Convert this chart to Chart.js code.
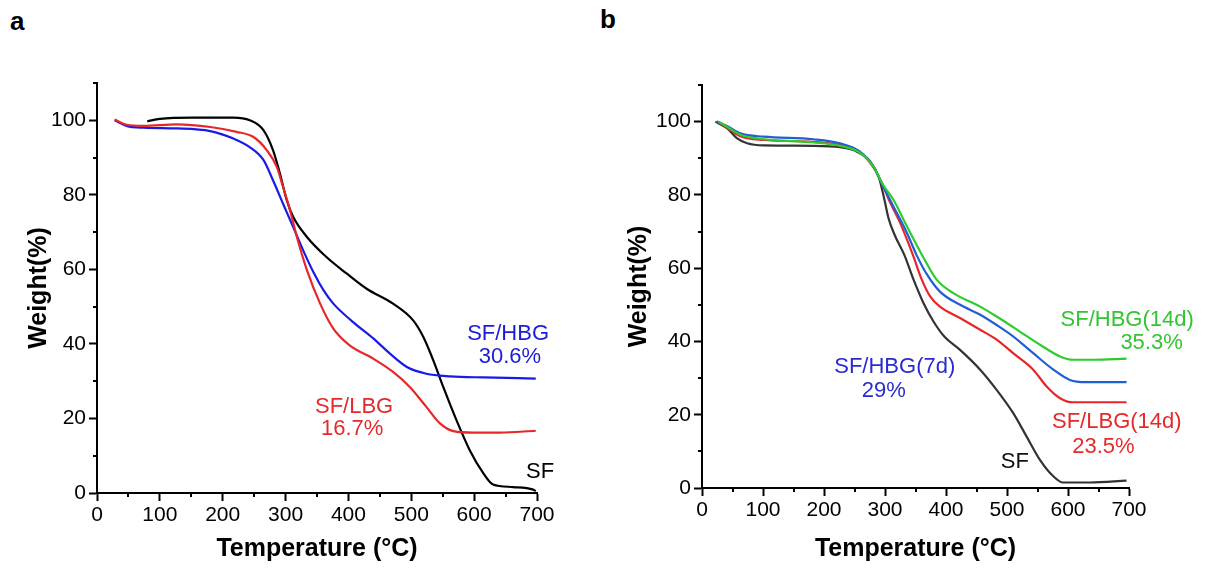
<!DOCTYPE html>
<html>
<head>
<meta charset="utf-8">
<script src="https://cdn.jsdelivr.net/npm/chart.js@4.4.1/dist/chart.umd.min.js"></script>
<style>
  html, body { margin: 0; padding: 0; background: #fff; }
  body { width: 1208px; height: 569px; position: relative; overflow: hidden; font-family: "Liberation Sans", Arial, sans-serif; }
  .panel { position: absolute; top: 0; height: 569px; }
  .letter { position: absolute; font: bold 26px "Liberation Sans", Arial, sans-serif; color: #000; }
</style>
</head>
<body>
<div class="letter" style="left:10px; top:6px;">a</div>
<div class="letter" style="left:600px; top:4px;">b</div>
<div class="panel" style="left:0; width:600px;"><canvas id="chartA" width="600" height="569"></canvas></div>
<div class="panel" style="left:600px; width:608px;"><canvas id="chartB" width="608" height="569"></canvas></div>
<script>
// Panel a: TGA SF, SF/LBG, SF/HBG
const sfTempA = [80, 100, 153, 217, 243, 265, 280, 291, 302, 312, 334, 365, 397, 429, 471, 503, 519, 535, 551, 572, 593, 615, 630, 662, 694, 698];
const sfWeightA = [99.7, 100.4, 100.7, 100.7, 100.0, 97.3, 92.0, 85.7, 78.5, 74.1, 68.7, 63.3, 58.9, 54.8, 50.8, 46.3, 41.9, 35.6, 28.4, 19.5, 11.5, 5.2, 2.3, 1.6, 0.9, 0.5];
const lbgTempA = [28, 47, 74, 127, 180, 222, 249, 270, 286, 296, 307, 318, 334, 355, 376, 402, 440, 471, 498, 524, 546, 567, 599, 641, 698];
const lbgWeightA = [100.2, 98.8, 98.5, 98.9, 98.2, 96.9, 95.5, 92.0, 87.5, 82.1, 75.9, 68.7, 59.8, 50.8, 44.1, 39.6, 36.0, 32.5, 28.4, 23.1, 18.6, 16.6, 16.2, 16.2, 16.7];
const hbgTempA = [28, 47, 74, 127, 180, 217, 243, 265, 280, 296, 312, 328, 345, 360, 376, 405, 440, 466, 493, 524, 562, 615, 698];
const hbgWeightA = [100.0, 98.5, 98.0, 97.8, 97.1, 95.1, 92.8, 89.3, 83.9, 77.6, 71.4, 65.1, 59.0, 54.5, 50.8, 46.2, 41.4, 37.4, 33.8, 32.0, 31.3, 31.0, 30.7];

// Panel b: SF, SF/LBG(14d), SF/HBG(7d), SF/HBG(14d)
const sfTempB = [22, 41, 57, 74, 101, 183, 226, 254, 276, 290, 298, 306, 316, 332, 346, 363, 380, 398, 423, 456, 483, 510, 532, 554, 576, 592, 636, 696];
const sfWeightB = [100, 98.2, 95.5, 94.1, 93.5, 93.4, 93.0, 91.8, 89.1, 84.8, 79.5, 73.5, 69.0, 63.5, 57.2, 50.5, 45.3, 41.2, 37.7, 32.3, 26.8, 20.5, 14.1, 7.7, 3.2, 1.5, 1.5, 2.0];
const lbg14TempB = [24, 41, 63, 101, 183, 226, 259, 281, 297, 306, 325, 346, 360, 374, 390, 423, 456, 483, 510, 543, 565, 587, 608, 696];
const lbg14WeightB = [100, 98.4, 96.0, 95.0, 94.5, 93.6, 91.6, 87.5, 82.5, 78.8, 72.3, 63.5, 57.0, 52.3, 49.5, 46.4, 43.2, 40.5, 36.8, 32.3, 27.7, 24.5, 23.4, 23.4];
const hbg7TempB = [24, 41, 63, 101, 183, 226, 259, 281, 297, 314, 336, 352, 368, 390, 423, 456, 483, 510, 543, 576, 603, 630, 696];
const hbg7WeightB = [100, 98.8, 96.8, 95.9, 95.2, 94.1, 91.8, 87.7, 82.3, 76.8, 69.6, 63.5, 58.5, 53.6, 50.0, 47.3, 44.5, 41.4, 36.8, 32.3, 29.5, 28.9, 28.9];
const hbg14TempB = [27, 41, 63, 101, 183, 226, 259, 281, 297, 314, 336, 365, 385, 412, 456, 483, 521, 554, 587, 608, 641, 696];
const hbg14WeightB = [100, 98.6, 96.4, 95.2, 94.3, 93.4, 91.5, 87.7, 82.7, 78.6, 71.4, 62.3, 56.8, 53.2, 49.5, 46.8, 42.7, 39.1, 35.9, 35.0, 35.0, 35.3];

const tempTicks = [0, 100, 200, 300, 400, 500, 600, 700];
const weightTicks = [0, 20, 40, 60, 80, 100];

// Curve labels (text, temperature, weight)
const labelsA = [
  { text: 'SF/HBG', t: 654, w: 42.8, color: '#1c1cd8' },
  { text: '30.6%', t: 657, w: 36.4, color: '#1c1cd8' },
  { text: 'SF/LBG', t: 409, w: 23.0, color: '#e42a2a' },
  { text: '16.7%', t: 406, w: 17.1, color: '#e42a2a' },
  { text: 'SF', t: 705, w: 5.6, color: '#000000' }
];
const labelsB = [
  { text: 'SF/HBG(14d)', t: 697, w: 45.9, color: '#33c433' },
  { text: '35.3%', t: 737, w: 39.6, color: '#33c433' },
  { text: 'SF/HBG(7d)', t: 316, w: 33.0, color: '#2a2ad0' },
  { text: '29%', t: 298, w: 26.5, color: '#2a2ad0' },
  { text: 'SF/LBG(14d)', t: 680, w: 18.1, color: '#e42a2a' },
  { text: '23.5%', t: 658, w: 11.3, color: '#e42a2a' },
  { text: 'SF', t: 513, w: 7.2, color: '#111111' }
];

const FONT = '"Liberation Sans", Arial, sans-serif';

// Menggabungkan array suhu dan berat menjadi titik {x, y}
function toPoints(temps, weights) {
  return temps.map((t, i) => ({ x: t, y: weights[i] }));
}

// Tick minor kecil pada sumbu (tiap 50 °C dan tiap 10 %)
const minorTicks = {
  id: 'minorTicks',
  afterDraw(chart) {
    const { ctx, chartArea, scales: { x, y } } = chart;
    ctx.save();
    ctx.strokeStyle = '#000';
    ctx.lineWidth = 2;
    ctx.beginPath();
    for (let v = 50; v < 700; v += 100) {
      const px = Math.round(x.getPixelForValue(v));
      ctx.moveTo(px, chartArea.bottom);
      ctx.lineTo(px, chartArea.bottom + 4);
    }
    for (let v = 10; v <= 110; v += 20) {
      const py = Math.round(y.getPixelForValue(v));
      ctx.moveTo(chartArea.left, py);
      ctx.lineTo(chartArea.left - 4, py);
    }
    ctx.stroke();
    ctx.restore();
  }
};

// Label teks di dekat kurva
const curveLabels = {
  id: 'curveLabels',
  afterDatasetsDraw(chart, args, opts) {
    const { ctx, scales: { x, y } } = chart;
    ctx.save();
    ctx.font = '22px ' + FONT;
    ctx.textAlign = 'center';
    ctx.textBaseline = 'middle';
    (opts.items || []).forEach(it => {
      ctx.fillStyle = it.color;
      ctx.fillText(it.text, x.getPixelForValue(it.t), y.getPixelForValue(it.w));
    });
    ctx.restore();
  }
};

function makeChart(id, datasets, items, box) {
  return new Chart(document.getElementById(id), {
    type: 'line',
    data: { datasets: datasets },
    plugins: [minorTicks, curveLabels],
    options: {
      responsive: false,
      animation: false,
      parsing: false,
      layout: { padding: { top: box.top, right: box.right, left: 0, bottom: 0 } },
      elements: { point: { radius: 0 }, line: { tension: 0.4, cubicInterpolationMode: 'monotone' } },
      plugins: {
        legend: { display: false },
        tooltip: { enabled: false },
        curveLabels: { items: items }
      },
      scales: {
        x: {
          type: 'linear',
          min: 0, max: 700,
          afterBuildTicks: s => { s.ticks = tempTicks.map(v => ({ value: v })); },
          afterFit: s => { s.height = box.xHeight; },
          ticks: { color: '#000', font: { family: FONT, size: 21 }, padding: 2, maxRotation: 0 },
          grid: { drawOnChartArea: false, tickLength: 8, tickWidth: 2, tickColor: '#000' },
          border: { color: '#000', width: 2 },
          title: { display: true, text: 'Temperature (°C)', color: '#000', font: { family: FONT, size: 25, weight: 'bold' }, padding: { top: 0, bottom: 5 } }
        },
        y: {
          type: 'linear',
          min: 0, max: 110,
          afterBuildTicks: s => { s.ticks = weightTicks.map(v => ({ value: v })); },
          afterFit: s => { s.width = box.yWidth; },
          ticks: { color: '#000', font: { family: FONT, size: 21 }, padding: 3 },
          grid: { drawOnChartArea: false, tickLength: 8, tickWidth: 2, tickColor: '#000' },
          border: { color: '#000', width: 2 },
          title: { display: true, text: 'Weight(%)', color: '#000', font: { family: FONT, size: 25, weight: 'bold' }, padding: { top: 24, bottom: 0 } }
        }
      }
    }
  });
}

makeChart('chartA', [
  { data: toPoints(lbgTempA, lbgWeightA), borderColor: '#e8262a', borderWidth: 2.2 },
  { data: toPoints(hbgTempA, hbgWeightA), borderColor: '#1a1ae8', borderWidth: 2.2 },
  { data: toPoints(sfTempA, sfWeightA), borderColor: '#000000', borderWidth: 2.2 }
], labelsA, { top: 83, right: 63, xHeight: 76, yWidth: 97 });

makeChart('chartB', [
  { data: toPoints(hbg14TempB, hbg14WeightB), borderColor: '#2ecb2e', borderWidth: 2.2 },
  { data: toPoints(hbg7TempB, hbg7WeightB), borderColor: '#1f5fd6', borderWidth: 2.2 },
  { data: toPoints(lbg14TempB, lbg14WeightB), borderColor: '#e8262a', borderWidth: 2.2 },
  { data: toPoints(sfTempB, sfWeightB), borderColor: '#333333', borderWidth: 2.2 }
], labelsB, { top: 85, right: 79, xHeight: 81, yWidth: 102 });
</script>
</body>
</html>
